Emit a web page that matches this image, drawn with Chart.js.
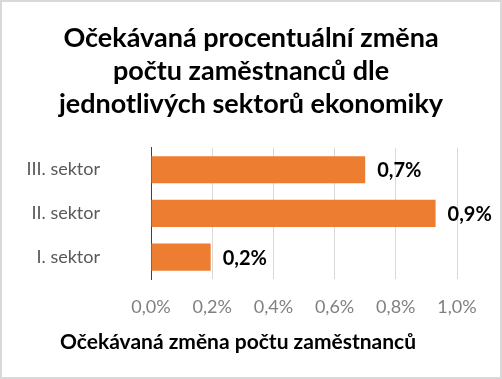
<!DOCTYPE html>
<html>
<head>
<meta charset="utf-8">
<script src="https://cdn.jsdelivr.net/npm/chart.js@4"></script>
<style>
  html, body { margin: 0; padding: 0; background: #fff; }
  #wrap { position: relative; width: 502px; height: 379px; }
  #frame { position: absolute; left: 0; top: 0; width: 502px; height: 379px;
           border: 2px solid #d9d9d9; box-sizing: border-box; pointer-events: none; }
</style>
</head>
<body>
<div id="wrap">
  <canvas id="chartSectors" width="502" height="379"></canvas>
  <div id="frame"></div>
</div>
<script>
const categories = ['III. sektor', 'II. sektor', 'I. sektor'];
const values = [0.70, 0.93, 0.195];
const titleLines = ['Očekávaná procentuální změna', 'počtu zaměstnanců dle', 'jednotlivých sektorů ekonomiky'];
const axisTitle = 'Očekávaná změna počtu zaměstnanců';

const fmt = (v) => v.toFixed(1).replace('.', ',') + '%';
const FONT = 'Lato, "Open Sans", sans-serif';

// value labels next to the bars
const barLabels = {
  id: 'barLabels',
  afterDatasetsDraw(chart) {
    const { ctx } = chart;
    const meta = chart.getDatasetMeta(0);
    ctx.save();
    ctx.font = 'bold 20px ' + FONT;
    ctx.fillStyle = '#000';
    ctx.textAlign = 'left';
    ctx.textBaseline = 'middle';
    meta.data.forEach((bar, i) => {
      ctx.fillText(fmt(values[i]), bar.x + 12, bar.y + 1);
    });
    ctx.restore();
  },
};

// axis title sits left of the plot centre, like in Excel
const xTitle = {
  id: 'xTitle',
  afterDraw(chart) {
    const { ctx } = chart;
    ctx.save();
    ctx.font = 'bold 21px ' + FONT;
    ctx.fillStyle = '#000';
    ctx.textAlign = 'center';
    ctx.textBaseline = 'middle';
    ctx.fillText(axisTitle, 238, 342);
    ctx.restore();
  },
};

const ctx = document.getElementById('chartSectors').getContext('2d');
new Chart(ctx, {
  type: 'bar',
  data: {
    labels: categories,
    datasets: [{
      data: values,
      backgroundColor: '#ED7D31',
      barPercentage: 0.62,
      categoryPercentage: 1,
    }],
  },
  options: {
    indexAxis: 'y',
    responsive: false,
    animation: false,
    layout: { padding: 0 },
    plugins: {
      legend: { display: false },
      tooltip: { enabled: false },
      title: {
        display: true,
        text: titleLines,
        color: '#000',
        font: { family: FONT, size: 27, weight: 'bold', lineHeight: 1.22 },
        padding: { top: 22, bottom: 27 },
      },
    },
    scales: {
      x: {
        min: 0,
        max: 1,
        ticks: {
          stepSize: 0.2,
          color: '#808080',
          font: { family: FONT, size: 18 },
          padding: 17,
          callback: (v) => fmt(v),
        },
        grid: { color: '#d9d9d9', drawTicks: false },
        border: { display: false },
        afterFit: (scale) => { scale.height = 100; },
      },
      y: {
        ticks: {
          color: '#595959',
          font: { family: FONT, size: 18 },
          padding: 51,
        },
        grid: { display: false, drawTicks: false },
        border: { color: '#404040', width: 1 },
        afterFit: (scale) => { scale.width = 151; },
      },
      // empty right-hand strip that leaves room for the value labels
      yRight: {
        type: 'category',
        position: 'right',
        ticks: { display: false },
        grid: { display: false, drawTicks: false },
        border: { display: false },
        afterFit: (scale) => { scale.width = 45; },
      },
    },
  },
  plugins: [barLabels, xTitle],
});
</script>
</body>
</html>
